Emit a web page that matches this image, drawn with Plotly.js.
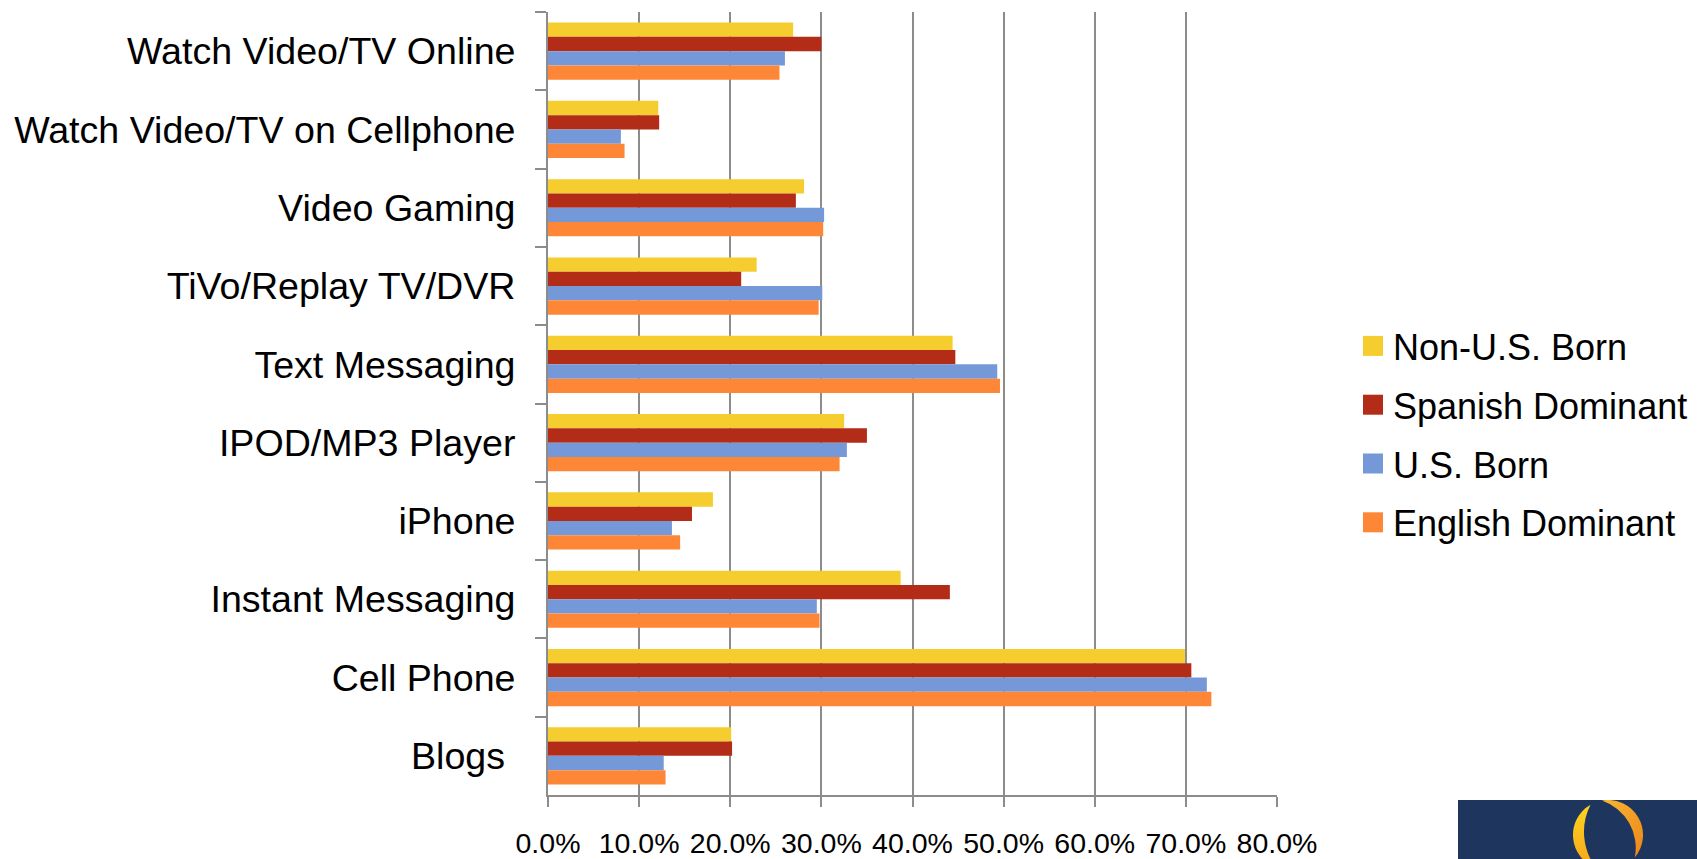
<!DOCTYPE html>
<html>
<head>
<meta charset="utf-8">
<script src="https://cdn.plot.ly/plotly-3.0.1.min.js"></script>
<style>
  html, body { margin: 0; padding: 0; background: #fff; }
  #chart { width: 1697px; height: 859px; }
</style>
</head>
<body>
<div id="chart"></div>
<script>
// Categories, top to bottom
const categories = [
  "Watch Video/TV Online",
  "Watch Video/TV on Cellphone",
  "Video Gaming",
  "TiVo/Replay TV/DVR",
  "Text Messaging",
  "IPOD/MP3 Player",
  "iPhone",
  "Instant Messaging",
  "Cell Phone",
  "Blogs\u00a0"
];

const seriesNames = ["Non-U.S. Born", "Spanish Dominant", "U.S. Born", "English Dominant"];
const seriesColors = ["#F5CD2E", "#B22C17", "#7599D8", "#FE8737"];

const nonUSBorn       = [26.9, 12.1, 28.1, 22.9, 44.4, 32.5, 18.1, 38.7, 69.9, 20.1];
const spanishDominant = [30.0, 12.2, 27.2, 21.2, 44.7, 35.0, 15.8, 44.1, 70.6, 20.2];
const usBorn          = [26.0,  8.0, 30.3, 30.1, 49.3, 32.8, 13.6, 29.5, 72.3, 12.7];
const englishDominant = [25.4,  8.4, 30.2, 29.7, 49.6, 32.0, 14.5, 29.8, 72.8, 12.9];

const xTickValues = [0, 10, 20, 30, 40, 50, 60, 70, 80];
const xTickLabels = ["0.0%", "10.0%", "20.0%", "30.0%", "40.0%", "50.0%", "60.0%", "70.0%", "80.0%"];

const seriesValues = [nonUSBorn, spanishDominant, usBorn, englishDominant];

const traces = seriesValues.map((vals, i) => ({
  type: "bar",
  orientation: "h",
  name: seriesNames[i],
  y: categories,
  x: vals,
  legendgroup: "g" + i,
  marker: { color: seriesColors[i], line: { width: 0 } },
  hoverinfo: "x+y+name"
}));

// pixel geometry of the plot area
const W = 1697, H = 859;
const L = 548, R = 1277, T = 12, B = 795;
const pw = R - L, ph = B - T;
function px(x) { return (x - L) / pw; }
function py(y) { return (B - y) / ph; }

const logoSvg =
  "<svg xmlns='http://www.w3.org/2000/svg' width='239' height='59' viewBox='0 0 239 59'>" +
  "<defs>" +
  "<linearGradient id='g1' x1='0' y1='0' x2='0' y2='1'><stop offset='0' stop-color='#FFD51E'/><stop offset='1' stop-color='#F6A51C'/></linearGradient>" +
  "<linearGradient id='g2' x1='0' y1='0' x2='1' y2='1'><stop offset='0' stop-color='#F8B630'/><stop offset='1' stop-color='#EE861B'/></linearGradient>" +
  "</defs>" +
  "<rect width='239' height='59' fill='#1E365E'/>" +
  "<path d='M132.5,4.7 A35,35 0 0 0 138,67.9 A60,60 0 0 1 132.5,4.7 Z' fill='url(#g1)'/>" +
  "<path d='M143.9,0.5 A35,35 0 0 1 176.8,57.5 A50,50 0 0 0 143.9,0.5 Z' fill='url(#g2)'/>" +
  "</svg>";

const gridCol = "#8C8C8C";

const layout = {
  width: W,
  height: H,
  paper_bgcolor: "#ffffff",
  plot_bgcolor: "#ffffff",
  margin: { l: L, r: W - R, t: T, b: H - B, autoexpand: false },
  barmode: "group",
  bargap: 0.27,
  bargroupgap: 0,
  showlegend: true,
  legend: {
    x: px(1353),
    xanchor: "left",
    y: py(434.5),
    yanchor: "middle",
    traceorder: "grouped",
    tracegroupgap: 9,
    font: { family: "Liberation Sans, Arial, sans-serif", size: 36, color: "#000" },
    bgcolor: "rgba(0,0,0,0)",
    borderwidth: 0
  },
  xaxis: {
    range: [0, 80],
    tickmode: "array",
    tickvals: xTickValues,
    ticktext: xTickLabels,
    tickangle: 0,
    showgrid: true,
    gridcolor: gridCol,
    gridwidth: 2,
    zeroline: false,
    showline: true,
    linecolor: gridCol,
    linewidth: 2,
    ticks: "outside",
    ticklen: 10,
    tickwidth: 2,
    tickcolor: gridCol,
    ticklabelstandoff: 12,
    tickfont: { family: "Liberation Sans, Arial, sans-serif", size: 28.5, color: "#000" },
    fixedrange: true
  },
  yaxis: {
    type: "category",
    autorange: "reversed",
    tickson: "boundaries",
    ticks: "outside",
    ticklen: 11,
    tickwidth: 2,
    tickcolor: gridCol,
    showline: true,
    linecolor: gridCol,
    linewidth: 2,
    showgrid: false,
    ticklabelstandoff: 23,
    tickfont: { family: "Liberation Sans, Arial, sans-serif", size: 37.6, color: "#000" },
    fixedrange: true
  },
  images: [{
    source: "data:image/svg+xml;charset=utf-8," + encodeURIComponent(logoSvg),
    xref: "paper", yref: "paper",
    x: px(1458), y: py(800),
    sizex: 239 / pw, sizey: 59 / ph,
    xanchor: "left", yanchor: "top",
    sizing: "stretch",
    layer: "above"
  }]
};

Plotly.newPlot("chart", traces, layout, { displayModeBar: false, staticPlot: true }).then(() => {
  const NS = "http://www.w3.org/2000/svg";
  document.querySelectorAll(".legend .traces").forEach((g, i) => {
    const lp = g.querySelector(".legendpoints");
    if (lp) lp.style.display = "none";
    const r = document.createElementNS(NS, "rect");
    r.setAttribute("x", "10");
    r.setAttribute("y", "-10");
    r.setAttribute("width", "20");
    r.setAttribute("height", "20");
    r.setAttribute("fill", seriesColors[i]);
    g.appendChild(r);
  });
});
</script>
</body>
</html>
